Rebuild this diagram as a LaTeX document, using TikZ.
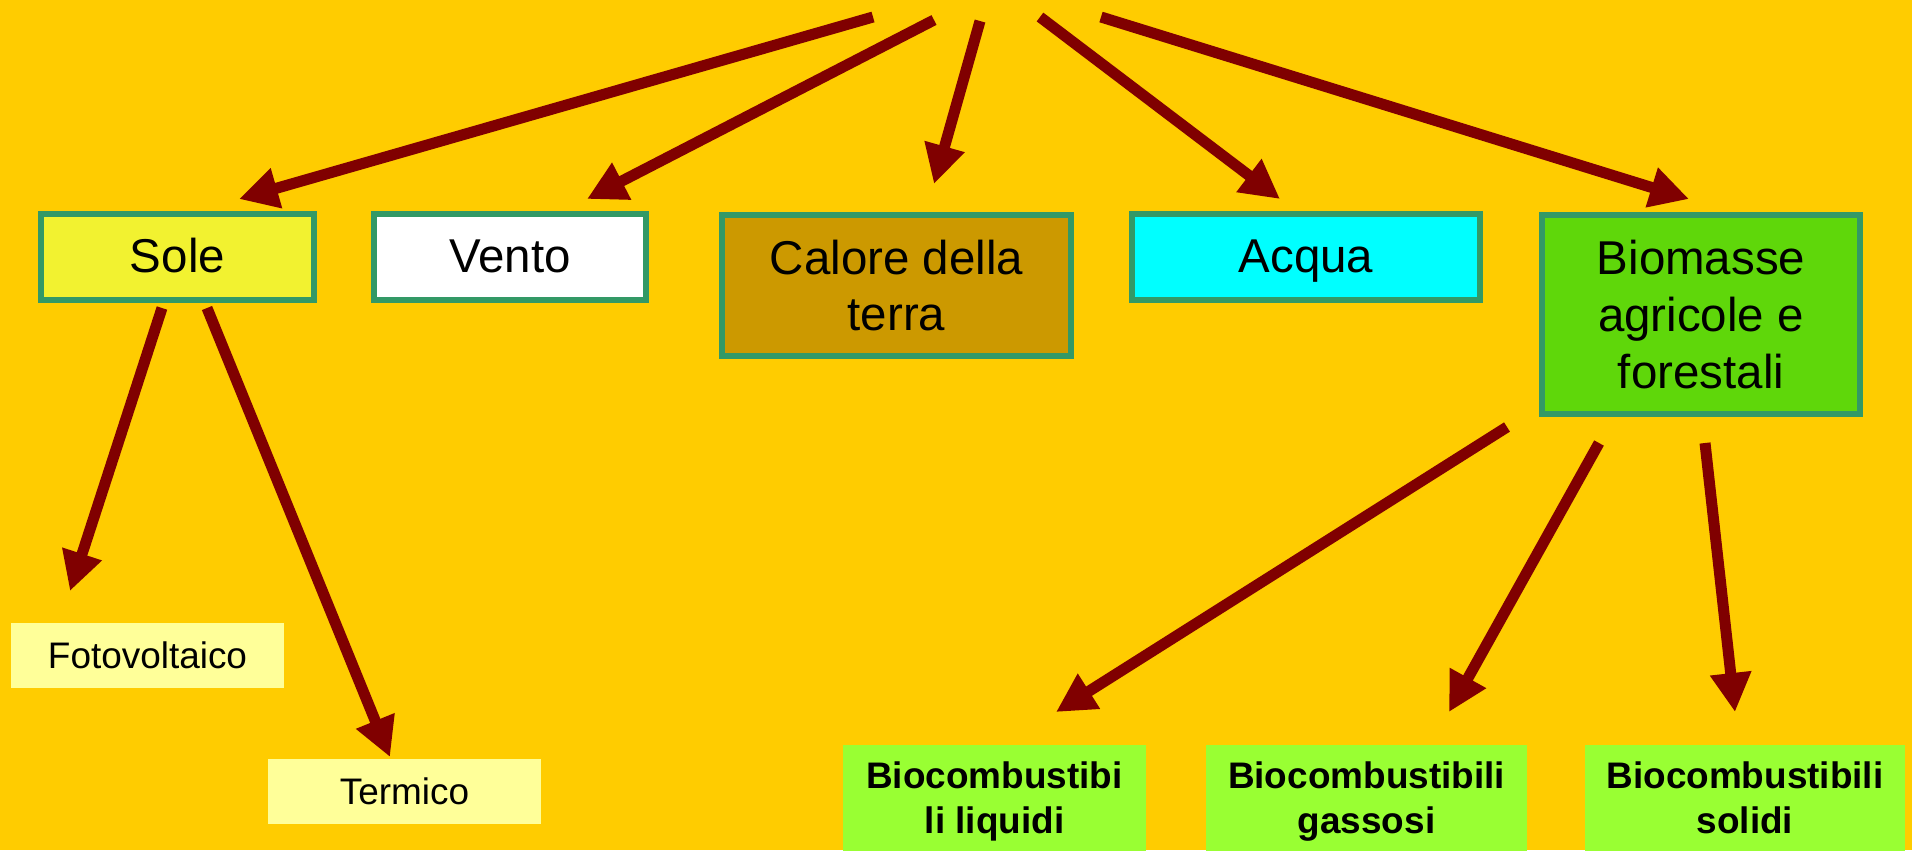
\documentclass[tikz,border=0pt]{standalone}
\usepackage{fontspec}
\setmainfont{Liberation Sans}
\usepackage{tikz}
\usetikzlibrary{
    positioning,
    arrows.meta
}
\definecolor{bgGold}{RGB}{255, 204, 0}
\definecolor{boxGreen}{RGB}{51, 153, 102}
\definecolor{soleYellow}{RGB}{242, 242, 48}
\definecolor{caloreBrown}{RGB}{204, 153, 0}
\definecolor{acquaCyan}{RGB}{0, 255, 255}
\definecolor{bioGreen}{RGB}{95, 215, 10}
\definecolor{paleYellow}{RGB}{255, 255, 153}
\definecolor{limeGreen}{RGB}{153, 255, 51}
\definecolor{arrowRed}{RGB}{128, 0, 0}

\begin{document}
\begin{tikzpicture}[x=0.01cm, y=-0.01cm, >={Triangle[length=0.39cm, width=0.39cm]},
    fonte/.style={draw=boxGreen, line width=0.06cm, inner sep=0pt, align=center,
        font=\fontsize{13.5}{16.2}\selectfont},
    riga/.style={text height=0.34cm, text depth=0.04cm},
    uso/.style={fill=paleYellow, inner sep=0pt, minimum width=2.73cm, minimum height=0.65cm,
        font=\fontsize{10.5}{12.8}\selectfont},
    bio/.style={fill=limeGreen, inner sep=0pt, align=center, minimum height=1.13cm,
        font=\bfseries\fontsize{10.5}{12.8}\selectfont},
    freccia/.style={->, arrowRed, line width=0.11cm}]
            \fill[bgGold] (0,0) rectangle (1912,850);
            \useasboundingbox (0,0) rectangle (1912,850);

            % fonti rinnovabili
            \node[fonte, riga, fill=soleYellow, minimum width=2.73cm, minimum height=0.86cm] (sole) at (177.5,257) {Sole};
            \node[fonte, riga, fill=white, minimum width=2.72cm, minimum height=0.86cm] (vento) at (510,257) {Vento};
            \node[fonte, fill=caloreBrown, minimum width=3.49cm, minimum height=1.41cm] (calore) at (896.5,285.5) {Calore della\\terra};
            \node[fonte, riga, fill=acquaCyan, minimum width=3.48cm, minimum height=0.86cm] (acqua) at (1306,257) {Acqua};
            \node[fonte, fill=bioGreen, minimum width=3.18cm, minimum height=1.99cm] (biomasse) at (1701,314.5) {Biomasse\\agricole e\\forestali};

            % usi del sole
            \node[uso] (foto) at (147.5,655.5) {Fotovoltaico};
            \node[uso] (termico) at (404.5,791) {Termico};

            % biocombustibili
            \node[bio, minimum width=3.03cm] (liquidi) at (994.5,801.5) {Biocombustibi\strut\\li liquidi\strut};
            \node[bio, minimum width=3.21cm] (gassosi) at (1366.5,801.5) {Biocombustibili\strut\\gassosi\strut};
            \node[bio, minimum width=3.20cm] (solidi) at (1745,801.5) {Biocombustibili\strut\\solidi\strut};

            % code e punte delle frecce
            \coordinate (t1) at (873,17);   \coordinate (p1) at (239,199);
            \coordinate (t2) at (934,20);   \coordinate (p2) at (587,199);
            \coordinate (t3) at (980,21);   \coordinate (p3) at (934,184);
            \coordinate (t4) at (1040,17);  \coordinate (p4) at (1280,199);
            \coordinate (t5) at (1101,17);  \coordinate (p5) at (1689,199);
            \coordinate (s1) at (162,308);  \coordinate (q1) at (70,591);
            \coordinate (s2) at (207,308);  \coordinate (q2) at (390,757);
            \coordinate (b1) at (1507,427); \coordinate (r1) at (1056,712);
            \coordinate (b2) at (1599,443); \coordinate (r2) at (1449,712);
            \coordinate (b3) at (1705,443); \coordinate (r3) at (1735,712);

            \draw[freccia] (t1) -- (p1);
            \draw[freccia] (t2) -- (p2);
            \draw[freccia] (t3) -- (p3);
            \draw[freccia] (t4) -- (p4);
            \draw[freccia] (t5) -- (p5);
            \draw[freccia] (s1) -- (q1);
            \draw[freccia] (s2) -- (q2);
            \draw[freccia] (b1) -- (r1);
            \draw[freccia] (b2) -- (r2);
            \draw[freccia] (b3) -- (r3);
        \end{tikzpicture}
\end{document}
